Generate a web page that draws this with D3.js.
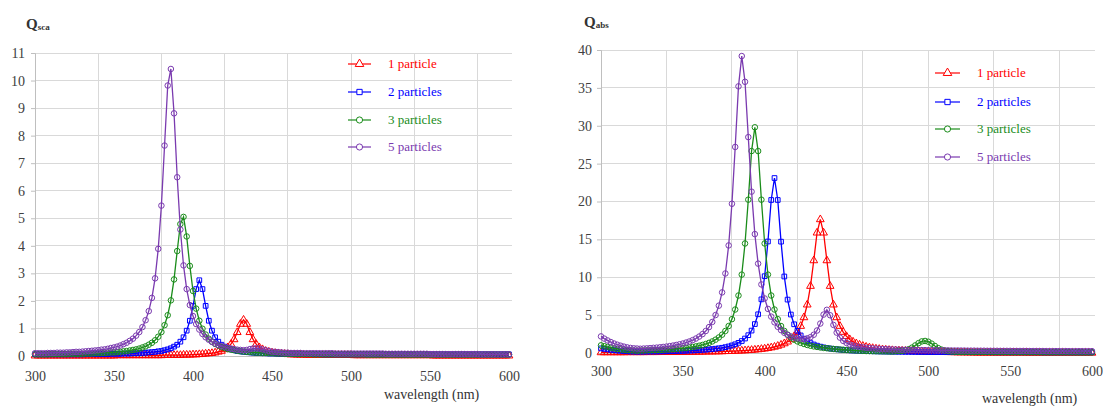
<!DOCTYPE html>
<html><head><meta charset="utf-8">
<script src="https://cdn.jsdelivr.net/npm/d3@7"></script>
<style>
body{margin:0;background:#fff}
svg{display:block}
svg text{font-family:"Liberation Serif","DejaVu Serif","Times New Roman",serif !important}
</style>
</head><body>
<svg id="chart" width="1103" height="409"></svg>
<script>
// ---------------- DATA ----------------
const wavelengths = [
300,302,304,306,308,310,312,314,316,318,
320,322,324,326,328,330,332,334,336,338,
340,342,344,346,348,350,352,354,356,358,
360,362,364,366,368,370,372,374,376,378,
380,382,384,386,388,390,392,394,396,398,
400,402,404,406,408,410,412,414,416,418,
420,422,424,426,428,430,432,434,436,438,
440,442,444,446,448,450,452,454,456,458,
460,462,464,466,468,470,472,474,476,478,
480,482,484,486,488,490,492,494,496,498,
500,502,504,506,508,510,512,514,516,518,
520,522,524,526,528,530,532,534,536,538,
540,542,544,546,548,550,552,554,556,558,
560,562,564,566,568,570,572,574,576,578,
580,582,584,586,588,590,592,594,596,598,
600];

const seriesNames = ["1 particle", "2 particles", "3 particles", "5 particles"];
const xTickValues = [300, 350, 400, 450, 500, 550, 600];
const xGridValues = [340, 380, 420, 460, 500, 540, 580];
const scaTickValues = [0,1,2,3,4,5,6,7,8,9,10,11];
const absTickValues = [0,5,10,15,20,25,30,35,40];

// Q_sca (left chart)
const scaOne = [
.01,.01,.01,.01,.01,.01,.01,.01,.01,.01,
.01,.01,.01,.01,.01,.01,.01,.01,.01,.01,
.01,.01,.01,.01,.01,.01,.02,.02,.02,.02,
.02,.02,.02,.02,.02,.02,.02,.02,.02,.02,
.02,.03,.03,.03,.03,.03,.03,.04,.04,.04,
.05,.05,.06,.07,.08,.09,.10,.12,.15,.18,
.24,.31,.43,.60,.86,1.16,1.31,1.16,.86,.60,
.43,.31,.24,.18,.15,.12,.10,.09,.08,.07,
.06,.05,.05,.04,.04,.04,.03,.03,.03,.03,
.03,.03,.03,.03,.03,.03,.03,.03,.03,.03,
.03,.02,.02,.02,.02,.02,.02,.02,.02,.02,
.02,.02,.02,.02,.02,.02,.02,.02,.02,.02,
.02,.02,.02,.02,.02,.02,.01,.01,.01,.01,
.01,.01,.01,.01,.01,.01,.01,.01,.01,.01,
.01,.01,.01,.01,.01,.01,.01,.01,.01,.01,
.01];
const scaTwo = [
.06,.06,.06,.06,.06,.06,.06,.06,.06,.06,
.06,.06,.06,.06,.06,.06,.07,.07,.07,.07,
.07,.07,.07,.07,.08,.08,.08,.08,.09,.09,
.09,.10,.10,.11,.11,.12,.13,.14,.15,.17,
.18,.21,.24,.28,.34,.41,.52,.68,.92,1.28,
1.82,2.43,2.75,2.43,1.82,1.28,.92,.68,.52,.41,
.34,.28,.24,.21,.18,.17,.15,.14,.13,.12,
.11,.11,.10,.10,.09,.09,.09,.08,.08,.08,
.08,.07,.07,.07,.07,.07,.07,.07,.07,.07,
.07,.06,.06,.06,.06,.06,.06,.06,.06,.06,
.06,.06,.06,.06,.06,.06,.06,.06,.06,.06,
.06,.06,.06,.06,.06,.06,.06,.06,.06,.06,
.06,.06,.06,.06,.06,.06,.06,.06,.06,.06,
.06,.06,.06,.06,.06,.06,.06,.06,.06,.06,
.06,.06,.06,.06,.06,.06,.06,.06,.06,.06,
.06];
const scaThree = [
.06,.06,.06,.06,.06,.07,.07,.07,.07,.07,
.07,.08,.08,.08,.08,.08,.09,.09,.09,.10,
.10,.11,.11,.12,.13,.13,.14,.15,.17,.18,
.20,.22,.24,.27,.31,.35,.41,.48,.57,.70,
.87,1.12,1.48,2.02,2.78,3.81,4.79,5.05,4.34,3.27,
2.36,1.72,1.28,.99,.78,.63,.52,.44,.38,.33,
.29,.25,.23,.21,.19,.17,.16,.15,.14,.13,
.12,.12,.11,.11,.10,.10,.09,.09,.09,.08,
.08,.08,.08,.07,.07,.07,.07,.07,.06,.06,
.06,.06,.06,.06,.06,.06,.06,.06,.06,.06,
.06,.06,.06,.06,.06,.05,.05,.05,.05,.05,
.05,.05,.05,.05,.05,.05,.05,.05,.05,.05,
.05,.05,.05,.05,.05,.05,.05,.05,.05,.05,
.05,.05,.05,.05,.05,.05,.05,.05,.05,.05,
.05,.05,.05,.05,.05,.05,.05,.05,.05,.05,
.05];
const scaFive = [
.10,.10,.10,.10,.11,.11,.11,.12,.12,.12,
.13,.13,.14,.15,.15,.16,.17,.18,.19,.20,
.21,.23,.24,.26,.29,.31,.34,.38,.43,.48,
.55,.63,.74,.87,1.05,1.30,1.63,2.11,2.82,3.89,
5.46,7.64,9.82,10.42,8.81,6.49,4.59,3.29,2.43,1.85,
1.45,1.16,.96,.80,.68,.59,.51,.45,.40,.36,
.33,.30,.27,.25,.23,.22,.21,.22,.25,.27,
.28,.27,.24,.21,.18,.16,.15,.14,.13,.12,
.12,.11,.11,.11,.11,.10,.10,.10,.10,.10,
.10,.10,.10,.10,.10,.09,.09,.09,.09,.09,
.09,.09,.09,.09,.09,.09,.09,.09,.09,.09,
.09,.08,.08,.08,.08,.08,.08,.08,.08,.08,
.08,.08,.08,.08,.08,.07,.07,.07,.07,.07,
.07,.07,.07,.07,.07,.07,.07,.07,.07,.07,
.07,.06,.06,.06,.06,.06,.06,.06,.06,.06,
.06];

// Q_abs (right chart)
const absOne = [
.07,.07,.07,.07,.07,.07,.07,.07,.08,.08,
.08,.08,.08,.08,.09,.09,.09,.09,.10,.10,
.10,.10,.11,.11,.12,.12,.12,.13,.13,.14,
.14,.15,.16,.17,.17,.18,.19,.20,.22,.23,
.24,.26,.28,.30,.32,.35,.38,.42,.46,.51,
.56,.63,.71,.80,.92,1.07,1.25,1.48,1.79,2.20,
2.76,3.55,4.69,6.37,8.83,12.21,15.87,17.63,15.87,12.21,
8.83,6.37,4.69,3.55,2.76,2.20,1.79,1.48,1.25,1.07,
.92,.80,.71,.63,.56,.51,.46,.42,.38,.35,
.32,.30,.28,.26,.24,.23,.22,.20,.19,.18,
.15,.14,.13,.12,.11,.10,.09,.08,.07,.06,
.05,.05,.04,.04,.03,.02,.02,.02,.02,.02,
.02,.02,.02,.02,.02,.02,.02,.02,.02,.02,
.01,.01,.01,.01,.01,.01,.01,.01,.01,.01,
.01,.01,.01,.01,.01,.01,.01,.01,.01,.01,
.01];
const absTwo = [
.61,.54,.48,.42,.38,.33,.29,.26,.23,.20,
.19,.17,.18,.18,.19,.19,.20,.20,.21,.22,
.23,.24,.25,.26,.27,.28,.30,.32,.34,.36,
.38,.41,.44,.48,.52,.57,.62,.69,.77,.87,
1.00,1.15,1.34,1.58,1.91,2.35,2.96,3.82,5.11,7.08,
10.14,14.72,20.2,23.1,20.2,14.7,10.1,7.05,5.08,3.79,
2.93,2.32,1.88,1.55,1.31,1.12,.97,.84,.74,.66,
.59,.54,.49,.45,.41,.38,.35,.33,.31,.29,
.27,.25,.24,.23,.22,.21,.20,.19,.18,.17,
.17,.16,.16,.15,.15,.14,.14,.13,.13,.13,
.12,.12,.12,.12,.12,.12,.11,.11,.11,.11,
.11,.11,.11,.11,.11,.11,.11,.11,.11,.11,
.10,.10,.10,.10,.10,.10,.10,.10,.10,.10,
.10,.10,.10,.10,.10,.09,.09,.09,.09,.09,
.09,.09,.09,.09,.09,.09,.09,.09,.09,.09,
.09];
const absThree = [
1.01,.90,.79,.70,.61,.54,.48,.43,.38,.35,
.33,.31,.32,.33,.35,.36,.38,.39,.41,.43,
.46,.48,.51,.55,.58,.63,.67,.73,.80,.87,
.96,1.06,1.19,1.34,1.53,1.76,2.05,2.42,2.91,3.56,
4.47,5.74,7.59,10.35,14.46,20.24,26.66,29.8,26.66,20.24,
14.46,10.35,7.59,5.74,4.47,3.56,2.91,2.42,2.05,1.76,
1.53,1.34,1.19,1.06,.96,.87,.80,.73,.67,.63,
.58,.54,.50,.46,.43,.40,.37,.35,.32,.30,
.28,.26,.25,.24,.23,.22,.21,.21,.20,.19,
.23,.26,.29,.37,.50,.71,1.00,1.30,1.53,1.59,
1.49,1.24,.93,.65,.45,.32,.24,.19,.16,.14,
.13,.13,.13,.12,.12,.12,.12,.12,.11,.11,
.11,.11,.11,.11,.11,.10,.10,.10,.10,.10,
.10,.10,.10,.10,.10,.09,.09,.09,.09,.09,
.09,.09,.09,.09,.09,.08,.08,.08,.08,.08,
.08];
const absFive = [
2.19,1.90,1.66,1.44,1.25,1.09,.96,.84,.74,.67,
.62,.59,.56,.59,.61,.64,.68,.71,.75,.80,
.85,.91,.98,1.06,1.15,1.25,1.38,1.52,1.70,1.91,
2.17,2.49,2.90,3.42,4.10,5.01,6.25,8.00,10.5,14.2,
19.7,27.2,35.2,39.2,35.8,28.5,21.3,15.7,11.8,9.05,
7.20,5.82,4.80,4.05,3.46,3.02,2.67,2.39,2.19,2.04,
1.93,1.87,1.86,1.93,2.09,2.41,2.97,3.89,5.07,5.70,
4.98,3.71,2.69,2.03,1.60,1.33,1.13,.99,.88,.80,
.74,.69,.64,.61,.58,.55,.53,.51,.49,.47,
.46,.44,.43,.42,.41,.40,.39,.39,.38,.38,
.37,.37,.36,.36,.35,.34,.34,.33,.33,.33,
.32,.32,.31,.31,.31,.30,.30,.30,.29,.29,
.29,.29,.28,.28,.28,.28,.27,.27,.27,.27,
.27,.26,.26,.26,.26,.26,.25,.25,.25,.25,
.25,.25,.25,.24,.24,.24,.24,.24,.24,.24,
.24];

// ---------------- STYLE ----------------
const FONT = '"Liberation Serif","DejaVu Serif","Times New Roman",serif';
const seriesColors = ["#ff0000", "#0000ff", "#1a8c1a", "#7a3aaf"];
const seriesSymbols = [d3.symbolTriangle, d3.symbolSquare, d3.symbolCircle, d3.symbolCircle];
const symbolSizes = [26, 22, 24, 24];

const svg = d3.select("#chart");

function drawChart(cfg) {
  const g = svg.append("g").attr("font-family", FONT);
  const x = d3.scaleLinear().domain([300, 600]).range(cfg.xRange);
  const y = d3.scaleLinear().domain(cfg.yDomain).range(cfg.yRange);
  const top = y(cfg.yDomain[1]), bottom = y(0);

  // horizontal grid
  g.append("g").selectAll("line").data(cfg.yTicks.filter(d => d > 0)).join("line")
    .attr("x1", cfg.xRange[0]).attr("x2", cfg.gridRight)
    .attr("y1", d => y(d)).attr("y2", d => y(d))
    .attr("stroke", "#d9d9d9").attr("stroke-width", 1).attr("shape-rendering", "crispEdges");
  // vertical grid
  g.append("g").selectAll("line").data(xGridValues).join("line")
    .attr("x1", d => x(d)).attr("x2", d => x(d))
    .attr("y1", top).attr("y2", bottom)
    .attr("stroke", "#d9d9d9").attr("stroke-width", 1).attr("shape-rendering", "crispEdges");

  // y axis
  const ya = g.append("g").attr("transform", `translate(${cfg.xRange[0]},0)`)
    .call(d3.axisLeft(y).tickValues(cfg.yTicks).tickSize(4).tickPadding(cfg.yPad).tickFormat(d3.format("d")));
  ya.attr("font-family", FONT);
  ya.select(".domain").attr("stroke", "#bfbfbf");
  ya.selectAll(".tick line").attr("stroke", "#bfbfbf");
  ya.selectAll("text").attr("font-size", 14).attr("fill", "#404040").style("font-family", FONT);

  // x axis
  const xa = g.append("g").attr("transform", `translate(0,${bottom})`)
    .call(d3.axisBottom(x).tickValues(xTickValues).tickSize(0).tickPadding(cfg.xPad).tickFormat(d3.format("d")));
  xa.attr("font-family", FONT);
  xa.select(".domain").attr("stroke", "#bfbfbf");
  xa.selectAll("text").attr("font-size", 14).attr("fill", "#404040").style("font-family", FONT);

  // series
  cfg.series.forEach((vals, i) => {
    const pts = wavelengths.map((w, j) => [w, vals[j]]);
    g.append("path").datum(pts)
      .attr("d", d3.line().x(d => x(d[0])).y(d => y(d[1])))
      .attr("fill", "none").attr("stroke", seriesColors[i]).attr("stroke-width", 1.3);
    const sym = d3.symbol().type(seriesSymbols[i]).size(symbolSizes[i]);
    g.append("g").selectAll("path").data(pts).join("path")
      .attr("transform", d => `translate(${x(d[0])},${y(d[1])})`)
      .attr("d", sym).attr("fill", "none")
      .attr("stroke", seriesColors[i]).attr("stroke-width", 1);
  });

  // legend
  const lg = g.append("g");
  seriesNames.forEach((name, i) => {
    const ly = cfg.legendY[i];
    lg.append("line").attr("x1", cfg.legendX[0]).attr("x2", cfg.legendX[1])
      .attr("y1", ly).attr("y2", ly).attr("stroke", seriesColors[i]).attr("stroke-width", 1.2);
    lg.append("path").attr("transform", `translate(${(cfg.legendX[0] + cfg.legendX[1]) / 2},${ly})`)
      .attr("d", d3.symbol().type(seriesSymbols[i]).size(symbolSizes[i] + 6)())
      .attr("fill", "#fff").attr("stroke", seriesColors[i]).attr("stroke-width", 1);
    lg.append("text").attr("x", cfg.legendTextX).attr("y", ly + 4)
      .attr("font-size", 13).attr("fill", seriesColors[i]).style("font-family", FONT).text(name);
  });

  // y title
  const t = g.append("text").attr("x", cfg.titleX).attr("y", cfg.titleY)
    .attr("fill", "#333").style("font-family", FONT);
  t.append("tspan").attr("font-size", 15).attr("font-weight", "bold").text("Q");
  t.append("tspan").attr("font-size", 9).attr("dy", 1).attr("font-weight", "bold").text(cfg.sub);

  // x title
  g.append("text").attr("x", cfg.xTitleX).attr("y", cfg.xTitleY)
    .attr("font-size", 14).attr("fill", "#333").style("font-family", FONT).text("wavelength (nm)");
}

drawChart({
  xRange: [35, 509], yRange: [356, 53], yDomain: [0, 11], yTicks: scaTickValues,
  gridRight: 512, yPad: 6, xPad: 15,
  series: [scaOne, scaTwo, scaThree, scaFive],
  legendX: [348, 371], legendY: [64, 92, 120, 147], legendTextX: 388,
  titleX: 26, titleY: 29, sub: "sca",
  xTitleX: 384, xTitleY: 399
});

drawChart({
  xRange: [601, 1092], yRange: [353, 50], yDomain: [0, 40], yTicks: absTickValues,
  gridRight: 1095, yPad: 5, xPad: 13,
  series: [absOne, absTwo, absThree, absFive],
  legendX: [935, 960], legendY: [73, 102, 129, 157], legendTextX: 977,
  titleX: 584, titleY: 27, sub: "abs",
  xTitleX: 982, xTitleY: 403
});
</script>
</body></html>
